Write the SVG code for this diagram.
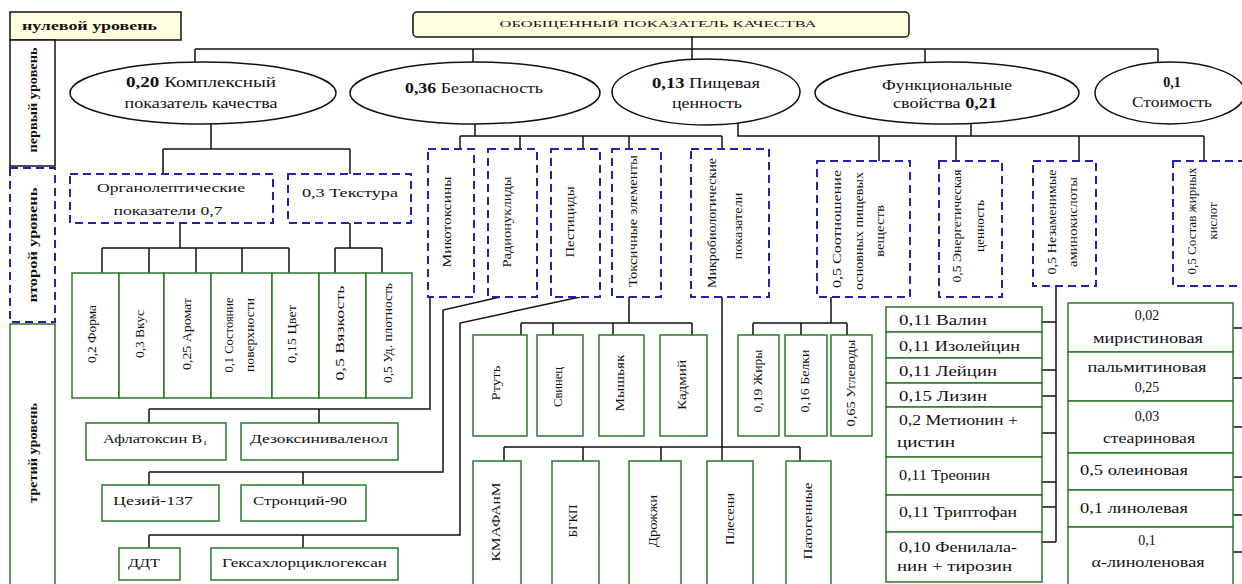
<svg xmlns="http://www.w3.org/2000/svg" width="1242" height="584" viewBox="0 0 1242 584">
<style>
text{font-family:"Liberation Serif","Times New Roman",serif;fill:#111;dominant-baseline:central}
.m{text-anchor:middle}
.b{font-weight:bold}
.f14{font-size:14px}
.f13{font-size:13px}
.f12{font-size:12px}
.c{fill:none;stroke:#111;stroke-width:1.5}
.e{fill:#fff;stroke:#111;stroke-width:1.5}
.y{fill:#ffffe0;stroke:#111;stroke-width:1.5}
.d{fill:#fff;stroke:#2323a8;stroke-width:2;stroke-dasharray:8 5}
.g{fill:#fff;stroke:#2a7a2a;stroke-width:1.5}
</style>

<g id="connectors">
<path class="c" d="M692 37V49M195 49H1158M195 49V62M473 49V62M692 49V59M925 49V62M1158 49V62"/>
<path class="c" d="M211 124V149M163 149H350M163 149V174M350 149V174"/>
<path class="c" d="M180 223V248M102 248H289M102 248V273M149 248V273M196 248V273M242 248V273M289 248V273"/>
<path class="c" d="M350 223V248M335 248H382M335 248V273M382 248V273"/>
<path class="c" d="M475 124V136M460 136H722M460 136V149M520 136V149M583 136V149M629 136V149M722 136V149"/>
<path class="c" d="M738 122V136H1204M971 124V136M879 136V161M956 136V161M1079 136V161M1204 136V161"/>
<path class="c" d="M430 297V409H149M149 409V423M319 409V423"/>
<path class="c" d="M500 297L443 310V472H149M149 472V485M303 472V485"/>
<path class="c" d="M580 297L460 323V535H149M149 535V548M303 535V548"/>
<path class="c" d="M629 297V323M521 323H692M521 323V335M553 323V335M613 323V335M692 323V335"/>
<path class="c" d="M722 297V461M504 447H800M504 447V461M583 447V461M661 447V461M800 447V461"/>
<path class="c" d="M831 297V323M753 323H847M753 323V335M801 323V335M847 323V335"/>
<path class="c" d="M1056 286V542M1042 322H1056M1042 370H1056M1042 396H1056M1042 433H1056M1042 482H1056M1042 507H1056M1042 542H1056"/>
<path class="c" d="M1233 328H1242M1233 378H1242M1233 427H1242M1233 477H1242M1233 515H1242M1233 552H1242"/>
</g>

<g id="levels">
<g id="level0"><rect class="y" x="10" y="12" width="171" height="28"/><text class="b f12" x="22" y="26" textLength="135" lengthAdjust="spacingAndGlyphs">нулевой уровень</text></g>
<g id="level1"><rect class="e" x="10" y="40" width="45" height="126"/><text class="b f12 m" transform="translate(33 100) rotate(-90)" textLength="105" lengthAdjust="spacingAndGlyphs">первый уровень</text></g>
<g id="level2"><rect class="d" x="10" y="168" width="45" height="154"/><text class="b f12 m" transform="translate(33 245) rotate(-90)" textLength="115" lengthAdjust="spacingAndGlyphs">второй уровень</text></g>
<g id="level3"><rect class="g" x="10" y="324" width="45" height="270"/><text class="b f12 m" transform="translate(33 453) rotate(-90)" textLength="100" lengthAdjust="spacingAndGlyphs">третий уровень</text></g>
</g>

<g id="root"><rect class="y" x="413" y="12" width="496" height="25" rx="4"/><text class="m" style="font-size:9px" x="658" y="24" textLength="317" lengthAdjust="spacingAndGlyphs">ОБОБЩЕННЫЙ ПОКАЗАТЕЛЬ КАЧЕСТВА</text></g>

<g id="e-complex"><ellipse class="e" cx="203" cy="93" rx="133" ry="31"/>
<text class="m f14" x="201" y="82" textLength="150" lengthAdjust="spacingAndGlyphs"><tspan class="b">0,20</tspan> Комплексный</text>
<text class="m f14" x="201" y="103" textLength="153" lengthAdjust="spacingAndGlyphs">показатель качества</text></g>
<g id="e-safety"><ellipse class="e" cx="475" cy="93" rx="125" ry="31"/>
<text class="m f14" x="474" y="88" textLength="138" lengthAdjust="spacingAndGlyphs"><tspan class="b">0,36</tspan> Безопасность</text></g>
<g id="e-food"><ellipse class="e" cx="706" cy="92" rx="94" ry="33"/>
<text class="m f14" x="706" y="83" textLength="108" lengthAdjust="spacingAndGlyphs"><tspan class="b">0,13</tspan> Пищевая</text>
<text class="m f14" x="707" y="103" textLength="70" lengthAdjust="spacingAndGlyphs">ценность</text></g>
<g id="e-func"><ellipse class="e" cx="947" cy="93" rx="132" ry="31"/>
<text class="m f14" x="947" y="85" textLength="130" lengthAdjust="spacingAndGlyphs">Функциональные</text>
<text class="m f14" x="945" y="103" textLength="104" lengthAdjust="spacingAndGlyphs">свойства <tspan class="b">0,21</tspan></text></g>
<g id="e-cost"><ellipse class="e" cx="1170" cy="93" rx="75" ry="31"/>
<text class="m f14 b" x="1172" y="82">0,1</text>
<text class="m f14" x="1172" y="102" textLength="80" lengthAdjust="spacingAndGlyphs">Стоимость</text></g>

<g id="n-organo"><rect class="d" x="70" y="174" width="203" height="49"/>
<text class="m f13" x="171" y="187" textLength="148" lengthAdjust="spacingAndGlyphs">Органолептические</text>
<text class="m f13" x="168" y="210" textLength="109" lengthAdjust="spacingAndGlyphs">показатели 0,7</text></g>
<g id="n-texture"><rect class="d" x="288" y="174" width="123" height="49"/>
<text class="m f13" x="350" y="192" textLength="96" lengthAdjust="spacingAndGlyphs">0,3 Текстура</text></g>

<g id="n-myco"><rect class="d" x="428" y="149" width="46" height="148"/><text class="m f12" transform="translate(447 222) rotate(-90)" textLength="91" lengthAdjust="spacingAndGlyphs">Микотоксины</text></g>
<g id="n-radio"><rect class="d" x="488" y="149" width="49" height="148"/><text class="m f12" transform="translate(507 222) rotate(-90)" textLength="91" lengthAdjust="spacingAndGlyphs">Радионуклиды</text></g>
<g id="n-pest"><rect class="d" x="551" y="149" width="49" height="148"/><text class="m f12" transform="translate(570 222) rotate(-90)" textLength="71" lengthAdjust="spacingAndGlyphs">Пестициды</text></g>
<g id="n-toxic"><rect class="d" x="612" y="149" width="49" height="148"/><text class="m f12" transform="translate(633 221) rotate(-90)" textLength="132" lengthAdjust="spacingAndGlyphs">Токсичные элементы</text></g>
<g id="n-micro"><rect class="d" x="691" y="149" width="78" height="148"/>
<text class="m f12" transform="translate(712 223) rotate(-90)" textLength="130" lengthAdjust="spacingAndGlyphs">Микробиологические</text>
<text class="m f12" transform="translate(738 226) rotate(-90)" textLength="67" lengthAdjust="spacingAndGlyphs">показатели</text></g>

<g id="n-ratio"><rect class="d" x="817" y="161" width="93" height="136"/>
<text class="m f12" transform="translate(837 229) rotate(-90)" textLength="118" lengthAdjust="spacingAndGlyphs">0,5 Соотношение</text>
<text class="m f12" transform="translate(859 231) rotate(-90)" textLength="118" lengthAdjust="spacingAndGlyphs">основных пищевых</text>
<text class="m f12" transform="translate(880 231) rotate(-90)" textLength="52" lengthAdjust="spacingAndGlyphs">веществ</text></g>
<g id="n-energy"><rect class="d" x="939" y="161" width="63" height="136"/>
<text class="m f12" transform="translate(957 226) rotate(-90)" textLength="113" lengthAdjust="spacingAndGlyphs">0,5 Энергетическая</text>
<text class="m f12" transform="translate(980 226) rotate(-90)" textLength="52" lengthAdjust="spacingAndGlyphs">ценность</text></g>
<g id="n-amino"><rect class="d" x="1033" y="161" width="63" height="125"/>
<text class="m f12" transform="translate(1052 222) rotate(-90)" textLength="105" lengthAdjust="spacingAndGlyphs">0,5 Незаменимые</text>
<text class="m f12" transform="translate(1073 222) rotate(-90)" textLength="90" lengthAdjust="spacingAndGlyphs">аминокислоты</text></g>
<g id="n-fatty"><rect class="d" x="1173" y="161" width="80" height="125"/>
<text class="m f12" transform="translate(1192 221) rotate(-90)" textLength="107" lengthAdjust="spacingAndGlyphs">0,5 Состав жирных</text>
<text class="m f12" transform="translate(1213 221) rotate(-90)" textLength="37" lengthAdjust="spacingAndGlyphs">кислот</text></g>

<g id="n-form"><rect class="g" x="72" y="273" width="47" height="125"/><text class="m f12" transform="translate(92 334) rotate(-90)" textLength="58" lengthAdjust="spacingAndGlyphs">0,2 Форма</text></g>
<g id="n-taste"><rect class="g" x="119" y="273" width="45" height="125"/><text class="m f12" transform="translate(140 334) rotate(-90)" textLength="48" lengthAdjust="spacingAndGlyphs">0,3 Вкус</text></g>
<g id="n-aroma"><rect class="g" x="164" y="273" width="47" height="125"/><text class="m f12" transform="translate(187 334) rotate(-90)" textLength="72" lengthAdjust="spacingAndGlyphs">0,25 Аромат</text></g>
<g id="n-surface"><rect class="g" x="211" y="273" width="61" height="125"/>
<text class="m f12" transform="translate(229 335) rotate(-90)" textLength="75" lengthAdjust="spacingAndGlyphs">0,1 Состояние</text>
<text class="m f12" transform="translate(250 335) rotate(-90)" textLength="74" lengthAdjust="spacingAndGlyphs">поверхности</text></g>
<g id="n-color"><rect class="g" x="272" y="273" width="47" height="125"/><text class="m f12" transform="translate(292 334) rotate(-90)" textLength="58" lengthAdjust="spacingAndGlyphs">0,15 Цвет</text></g>
<g id="n-visc"><rect class="g" x="319" y="273" width="47" height="125"/><text class="m f12" transform="translate(340 333) rotate(-90)" textLength="95" lengthAdjust="spacingAndGlyphs">0,5 Вязкость</text></g>
<g id="n-dens"><rect class="g" x="366" y="273" width="46" height="125"/><text class="m f12" transform="translate(388 333) rotate(-90)" textLength="100" lengthAdjust="spacingAndGlyphs">0,5 Уд. плотность</text></g>

<g id="n-afla"><rect class="g" x="86" y="423" width="140" height="37"/><text class="f12" x="103" y="439" textLength="105" lengthAdjust="spacingAndGlyphs">Афлатоксин В₁</text></g>
<g id="n-deoxy"><rect class="g" x="241" y="423" width="157" height="37"/><text class="f12" x="250" y="439" textLength="138" lengthAdjust="spacingAndGlyphs">Дезоксиниваленол</text></g>
<g id="n-cs"><rect class="g" x="102" y="485" width="117" height="36"/><text class="f12" x="113" y="501" textLength="80" lengthAdjust="spacingAndGlyphs">Цезий-137</text></g>
<g id="n-sr"><rect class="g" x="241" y="485" width="125" height="36"/><text class="f12" x="253" y="501" textLength="94" lengthAdjust="spacingAndGlyphs">Стронций-90</text></g>
<g id="n-ddt"><rect class="g" x="119" y="548" width="61" height="32"/><text class="f12" x="128" y="563" textLength="32" lengthAdjust="spacingAndGlyphs">ДДТ</text></g>
<g id="n-hch"><rect class="g" x="211" y="548" width="187" height="32"/><text class="f12" x="222" y="563" textLength="165" lengthAdjust="spacingAndGlyphs">Гексахлорциклогексан</text></g>

<g id="n-hg"><rect class="g" x="473" y="335" width="54" height="101"/><text class="m f12" transform="translate(496 383) rotate(-90)" textLength="35" lengthAdjust="spacingAndGlyphs">Ртуть</text></g>
<g id="n-pb"><rect class="g" x="537" y="335" width="46" height="101"/><text class="m f12" transform="translate(558 387) rotate(-90)" textLength="40" lengthAdjust="spacingAndGlyphs">Свинец</text></g>
<g id="n-as"><rect class="g" x="599" y="335" width="45" height="101"/><text class="m f12" transform="translate(620 383) rotate(-90)" textLength="57" lengthAdjust="spacingAndGlyphs">Мышьяк</text></g>
<g id="n-cd"><rect class="g" x="660" y="335" width="47" height="101"/><text class="m f12" transform="translate(682 385) rotate(-90)" textLength="50" lengthAdjust="spacingAndGlyphs">Кадмий</text></g>

<g id="n-fat"><rect class="g" x="738" y="335" width="41" height="101"/><text class="m f12" transform="translate(758 381) rotate(-90)" textLength="63" lengthAdjust="spacingAndGlyphs">0,19 Жиры</text></g>
<g id="n-prot"><rect class="g" x="785" y="335" width="42" height="101"/><text class="m f12" transform="translate(805 381) rotate(-90)" textLength="63" lengthAdjust="spacingAndGlyphs">0,16 Белки</text></g>
<g id="n-carb"><rect class="g" x="831" y="335" width="41" height="101"/><text class="m f12" transform="translate(851 383) rotate(-90)" textLength="87" lengthAdjust="spacingAndGlyphs">0,65 Углеводы</text></g>

<g id="n-kmafanm"><rect class="g" x="473" y="461" width="48" height="130"/><text class="m f12" transform="translate(496 522) rotate(-90)" textLength="79" lengthAdjust="spacingAndGlyphs">КМАФАнМ</text></g>
<g id="n-bgkp"><rect class="g" x="552" y="461" width="47" height="130"/><text class="m f12" transform="translate(573 521) rotate(-90)" textLength="33" lengthAdjust="spacingAndGlyphs">БГКП</text></g>
<g id="n-yeast"><rect class="g" x="629" y="461" width="52" height="130"/><text class="m f12" transform="translate(653 521) rotate(-90)" textLength="52" lengthAdjust="spacingAndGlyphs">Дрожжи</text></g>
<g id="n-mold"><rect class="g" x="707" y="461" width="46" height="130"/><text class="m f12" transform="translate(730 519) rotate(-90)" textLength="52" lengthAdjust="spacingAndGlyphs">Плесени</text></g>
<g id="n-path"><rect class="g" x="786" y="461" width="45" height="130"/><text class="m f12" transform="translate(808 521) rotate(-90)" textLength="77" lengthAdjust="spacingAndGlyphs">Патогенные</text></g>

<g id="amino-list">
<rect class="g" x="886" y="307" width="156" height="25"/><text class="f14" x="899" y="320" textLength="88" lengthAdjust="spacingAndGlyphs">0,11 Валин</text>
<rect class="g" x="886" y="332" width="156" height="26"/><text class="f14" x="899" y="346" textLength="121" lengthAdjust="spacingAndGlyphs">0,11 Изолейцин</text>
<rect class="g" x="886" y="358" width="156" height="25"/><text class="f14" x="899" y="371" textLength="98" lengthAdjust="spacingAndGlyphs">0,11 Лейцин</text>
<rect class="g" x="886" y="383" width="156" height="24"/><text class="f14" x="899" y="396" textLength="88" lengthAdjust="spacingAndGlyphs">0,15 Лизин</text>
<rect class="g" x="886" y="407" width="156" height="50"/><text class="f14" x="899" y="420" textLength="119" lengthAdjust="spacingAndGlyphs">0,2 Метионин +</text><text class="f14" x="897" y="442" textLength="58" lengthAdjust="spacingAndGlyphs">цистин</text>
<rect class="g" x="886" y="457" width="156" height="38"/><text class="f14" x="899" y="475" textLength="91" lengthAdjust="spacingAndGlyphs">0,11 Треонин</text>
<rect class="g" x="886" y="495" width="156" height="37"/><text class="f14" x="899" y="512" textLength="118" lengthAdjust="spacingAndGlyphs">0,11 Триптофан</text>
<rect class="g" x="886" y="532" width="156" height="50"/><text class="f14" x="899" y="547" textLength="118" lengthAdjust="spacingAndGlyphs">0,10 Фенилала-</text><text class="f14" x="897" y="566" textLength="115" lengthAdjust="spacingAndGlyphs">нин + тирозин</text>
</g>

<g id="fatty-list">
<rect class="g" x="1068" y="303" width="165" height="49"/><text class="m f14" x="1147" y="315">0,02</text><text class="m f14" x="1148" y="338" textLength="110" lengthAdjust="spacingAndGlyphs">миристиновая</text>
<rect class="g" x="1068" y="352" width="165" height="49"/><text class="m f14" x="1147" y="367" textLength="119" lengthAdjust="spacingAndGlyphs">пальмитиновая</text><text class="m f14" x="1147" y="387">0,25</text>
<rect class="g" x="1068" y="401" width="165" height="52"/><text class="m f14" x="1147" y="416">0,03</text><text class="m f14" x="1149" y="438" textLength="92" lengthAdjust="spacingAndGlyphs">стеариновая</text>
<rect class="g" x="1068" y="453" width="165" height="37"/><text class="f14" x="1080" y="470" textLength="108" lengthAdjust="spacingAndGlyphs">0,5 олеиновая</text>
<rect class="g" x="1068" y="490" width="165" height="37"/><text class="f14" x="1080" y="508" textLength="108" lengthAdjust="spacingAndGlyphs">0,1 линолевая</text>
<rect class="g" x="1068" y="527" width="165" height="64"/><text class="m f14" x="1147" y="540">0,1</text><text class="m f14" x="1148" y="562" textLength="113" lengthAdjust="spacingAndGlyphs">α-линоленовая</text>
</g>
</svg>
